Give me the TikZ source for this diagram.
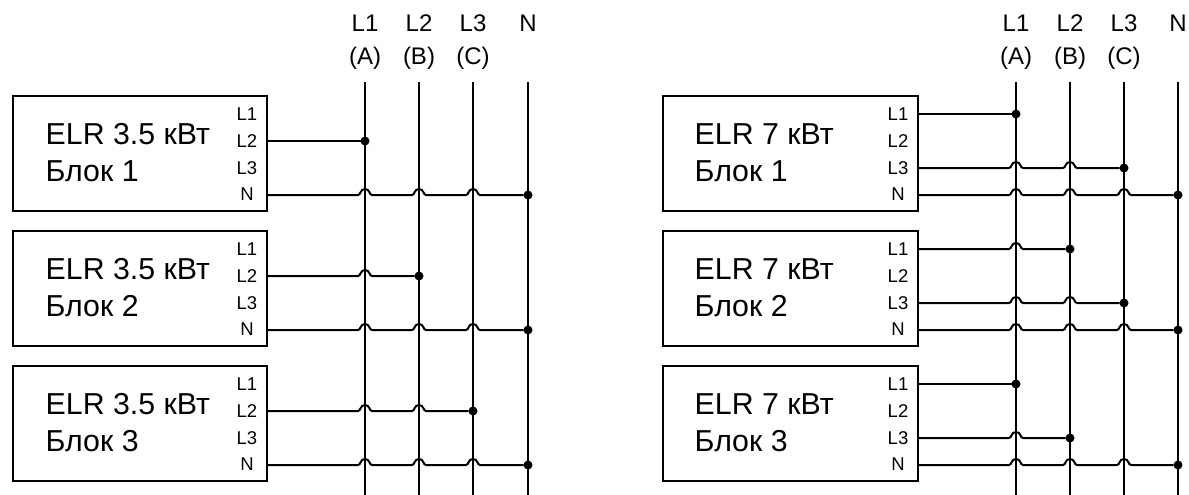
\documentclass[tikz,border=0pt]{standalone}
\usepackage{fontspec}
\setmainfont{Liberation Sans}
\tikzset{
  x=1pt,y=1pt,
  unitbox/.style={draw,line width=2pt,minimum width=#1,minimum height=115pt,inner sep=0pt,outer sep=0pt,anchor=north west},
  wire/.style={line width=2pt},
  dotj/.style={circle,fill=black,minimum size=9pt,inner sep=0pt,outer sep=0pt},
  title/.style={font=\fontsize{30.3}{37}\selectfont,align=left,anchor=west,inner sep=0pt},
  pin/.style={font=\fontsize{18.5}{18.5}\selectfont,anchor=center,inner sep=0pt},
  head/.style={font=\fontsize{24}{24}\selectfont,anchor=base,inner sep=0pt},
}
\def\hp#1#2{-- ([xshift=-7pt]#1 |- 0,#2) .. controls +(3,0) and +(-5,0) .. ([yshift=6pt]#1 |- 0,#2) .. controls +(5,0) and +(-3,0) .. ([xshift=7pt]#1 |- 0,#2)}
\begin{document}
\begin{tikzpicture}
\useasboundingbox (0,-495) rectangle (1189,0);
% buses
\foreach \s/\xa/\xb/\xc/\xn in {a/365/419/473/528,b/1016/1070/1124/1178}{
  \coordinate (\s1t) at (\xa,-82); \coordinate (\s1b) at (\xa,-495);
  \coordinate (\s2t) at (\xb,-82); \coordinate (\s2b) at (\xb,-495);
  \coordinate (\s3t) at (\xc,-82); \coordinate (\s3b) at (\xc,-495);
  \coordinate (\s4t) at (\xn,-82); \coordinate (\s4b) at (\xn,-495);
  \draw[wire] (\s1t) -- (\s1b);
  \draw[wire] (\s2t) -- (\s2b);
  \draw[wire] (\s3t) -- (\s3b);
  \draw[wire] (\s4t) -- (\s4b);
  \node[head] (\s h1) at (\xa,-32) {L1};
  \node[head] (\s h2) at (\xb,-32) {L2};
  \node[head] (\s h3) at (\xc,-32) {L3};
  \node[head] (\s h4) at (\xn,-32) {N};
  \node[head] (\s p1) at (\xa,-64.5) {(A)};
  \node[head] (\s p2) at (\xb,-64.5) {(B)};
  \node[head] (\s p3) at (\xc,-64.5) {(C)};
}
% boxes and labels
\foreach \s/\bx/\bw/\tx/\pw in {a/13/254/45.5/3.5,b/663/255/694.5/7}{
  \foreach \n/\t in {1/96,2/231,3/366}{
    \node[unitbox=\bw pt] (\s box\n) at (\bx,-\t) {};
    \node[title] (\s t\n) at (\tx,-\t-57) {ELR \pw\ кВт\\Блок \n};
    \node[pin] (\s l1\n) at ([xshift=-20pt]\s box\n.east |- 0,-\t-18.5) {L1};
    \node[pin] (\s l2\n) at ([xshift=-20pt]\s box\n.east |- 0,-\t-45) {L2};
    \node[pin] (\s l3\n) at ([xshift=-20pt]\s box\n.east |- 0,-\t-72) {L3};
    \node[pin] (\s l4\n) at ([xshift=-20pt]\s box\n.east |- 0,-\t-98.5) {N};
  }
}
% left diagram
\node[dotj] (A1) at (a1t |- 0,-141) {};
\draw[wire] (abox1.east |- A1) -- (A1);
\node[dotj] (AN1) at (a4t |- 0,-195) {};
\draw[wire] (abox1.east |- AN1) \hp{a1t}{-195} \hp{a2t}{-195} \hp{a3t}{-195} -- (AN1);
\node[dotj] (A2) at (a2t |- 0,-276) {};
\draw[wire] (abox2.east |- A2) \hp{a1t}{-276} -- (A2);
\node[dotj] (AN2) at (a4t |- 0,-330) {};
\draw[wire] (abox2.east |- AN2) \hp{a1t}{-330} \hp{a2t}{-330} \hp{a3t}{-330} -- (AN2);
\node[dotj] (A3) at (a3t |- 0,-411) {};
\draw[wire] (abox3.east |- A3) \hp{a1t}{-411} \hp{a2t}{-411} -- (A3);
\node[dotj] (AN3) at (a4t |- 0,-465) {};
\draw[wire] (abox3.east |- AN3) \hp{a1t}{-465} \hp{a2t}{-465} \hp{a3t}{-465} -- (AN3);
% right diagram
\node[dotj] (B1a) at (b1t |- 0,-114) {};
\draw[wire] (bbox1.east |- B1a) -- (B1a);
\node[dotj] (B1c) at (b3t |- 0,-168) {};
\draw[wire] (bbox1.east |- B1c) \hp{b1t}{-168} \hp{b2t}{-168} -- (B1c);
\node[dotj] (BN1) at (b4t |- 0,-195) {};
\draw[wire] (bbox1.east |- BN1) \hp{b1t}{-195} \hp{b2t}{-195} \hp{b3t}{-195} -- (BN1);
\node[dotj] (B2a) at (b2t |- 0,-249) {};
\draw[wire] (bbox2.east |- B2a) \hp{b1t}{-249} -- (B2a);
\node[dotj] (B2c) at (b3t |- 0,-303) {};
\draw[wire] (bbox2.east |- B2c) \hp{b1t}{-303} \hp{b2t}{-303} -- (B2c);
\node[dotj] (BN2) at (b4t |- 0,-330) {};
\draw[wire] (bbox2.east |- BN2) \hp{b1t}{-330} \hp{b2t}{-330} \hp{b3t}{-330} -- (BN2);
\node[dotj] (B3a) at (b1t |- 0,-384) {};
\draw[wire] (bbox3.east |- B3a) -- (B3a);
\node[dotj] (B3c) at (b2t |- 0,-438) {};
\draw[wire] (bbox3.east |- B3c) \hp{b1t}{-438} -- (B3c);
\node[dotj] (BN3) at (b4t |- 0,-465) {};
\draw[wire] (bbox3.east |- BN3) \hp{b1t}{-465} \hp{b2t}{-465} \hp{b3t}{-465} -- (BN3);
\end{tikzpicture}
\end{document}
